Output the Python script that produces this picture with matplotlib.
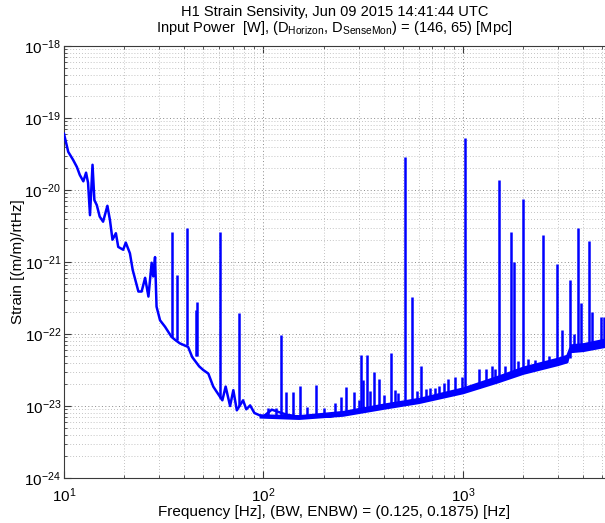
import matplotlib
matplotlib.use("Agg")
import matplotlib.pyplot as plt
from matplotlib.ticker import FixedLocator, NullFormatter, LogFormatterSciNotation

plt.rcParams['font.family'] = ['Liberation Sans', 'DejaVu Sans']
plt.rcParams['mathtext.default'] = 'regular'

# ---- data ----
# broadband curve (centre of trace)
curve_freq = [10.0, 10.5, 11.1, 11.6, 12.0, 12.5, 12.9, 13.2, 13.5, 13.9, 14.2, 14.6,
              15.1, 15.7, 16.5, 17.0, 17.5, 18.2, 18.7, 19.8, 20.4, 21.4, 22.1, 23.6,
              24.5, 25.5, 26.5, 27.5, 28.0, 28.6, 29.1, 30.3, 32.1, 34.6, 36.0, 38.1,
              41.9, 43.9, 47.6, 49.9, 52.9, 56.0, 58.2, 62.2, 64.6, 68.0, 70.6, 73.5,
              79.0, 82.0, 85.7, 90.0, 99.5, 110, 130, 150, 170, 200, 216, 250, 300, 400,
              500, 700, 1000, 1500, 2000, 3000, 3300, 3450, 4000, 5150]
curve_strain = [6.03e-20, 3.39e-20, 2.63e-20, 2.09e-20, 1.62e-20, 1.32e-20, 1.74e-20, 1.26e-20,
                4.47e-21, 2.24e-20, 7.24e-21, 6.17e-21, 4.27e-21, 3.63e-21, 6.03e-21, 3.80e-21,
                2.04e-21, 2.51e-21, 1.62e-21, 1.48e-21, 1.86e-21, 1.32e-21, 7.76e-22, 3.89e-22,
                3.89e-22, 6.03e-22, 3.31e-22, 9.77e-22, 6.31e-22, 1.17e-21, 2.40e-22, 1.55e-22,
                1.26e-22, 9.12e-23, 8.32e-23, 7.41e-23, 6.61e-23, 4.79e-23, 3.55e-23, 3.16e-23,
                2.82e-23, 1.86e-23, 1.58e-23, 1.20e-23, 1.86e-23, 1.00e-23, 1.66e-23, 8.71e-24,
                1.20e-23, 9.0e-24, 1.02e-23, 8.0e-24, 7.08e-24, 8.9e-24, 7.6e-24, 7.1e-24,
                7.1e-24, 7.1e-24, 7.1e-24, 7.9e-24, 8.9e-24, 1.0e-23, 1.12e-23, 1.32e-23,
                1.66e-23, 2.40e-23, 3.16e-23, 4.17e-23, 4.57e-23, 6.31e-23, 6.6e-23, 7.6e-23]

# envelope of the dense noise band at high frequency
band_freq = [95, 150, 250, 400, 600, 1000, 1500, 2000, 3000, 3350, 3450, 4000, 5150]
band_lo = [6.8e-24, 6.5e-24, 7.2e-24, 9.0e-24, 1.08e-23, 1.48e-23, 2.1e-23,
           2.75e-23, 3.65e-23, 4.0e-23, 5.5e-23, 5.7e-23, 6.5e-23]
band_hi = [7.8e-24, 7.6e-24, 8.7e-24, 1.1e-23, 1.32e-23, 1.85e-23, 2.7e-23,
           3.6e-23, 4.8e-23, 5.3e-23, 7.3e-23, 7.6e-23, 8.8e-23]

# narrow spectral lines: frequency, top, foot
line_freq = [34.9, 36.9, 41.2, 45.9, 46.6, 60.6, 75.6, 105, 116, 122, 130, 141, 152.5,
             165, 183, 200, 228, 246, 260, 283, 300, 307, 317, 329, 342, 356, 380, 400,
             438, 455, 475, 512, 553, 590, 615, 650, 685, 720, 760, 800, 843, 910, 990,
             1020, 1200, 1300, 1390, 1440, 1520, 1620, 1740, 1810, 1890, 2005, 2120, 2300,
             2510, 2700, 2970, 3150, 3440, 3600, 3785, 3900, 4290, 4450, 4900, 5100]
line_top = [2.63e-21, 6.6e-22, 2.95e-21, 2.14e-22, 2.82e-22, 2.63e-21, 1.95e-22, 9.5e-24,
            9.5e-24, 9.8e-23, 1.58e-23, 1.58e-23, 1.9e-23, 9.8e-24, 1.95e-23, 9.5e-24,
            1.1e-23, 1.35e-23, 1.86e-23, 1.58e-23, 1.2e-23, 5.1e-23, 2.3e-23, 5.1e-23,
            1.6e-23, 3.0e-23, 2.4e-23, 1.4e-23, 5.4e-23, 1.66e-23, 1.5e-23, 2.9e-20,
            3.3e-22, 1.6e-23, 3.55e-23, 1.7e-23, 1.78e-23, 1.8e-23, 1.9e-23, 2.1e-23,
            2.4e-23, 2.5e-23, 2.5e-23, 5.2e-20, 3.3e-23, 3.3e-23, 3.55e-23, 3.3e-23,
            1.38e-20, 3.55e-23, 2.63e-21, 1.0e-21, 4.2e-23, 7.6e-21, 4.5e-23, 4.3e-23,
            2.34e-21, 5.0e-23, 9.5e-22, 1.15e-22, 5.6e-22, 1.0e-22, 2.95e-21, 2.7e-22,
            1.95e-21, 2.04e-22, 1.74e-22, 1.74e-22]
line_foot = [9.0e-23, 8.3e-23, 7.0e-23, 5.0e-23, 5.0e-23, 1.3e-23, 1.0e-23, 7.5e-24,
             7.5e-24, 7.5e-24, 7.5e-24, 7.5e-24, 7.2e-24, 7.2e-24, 7.2e-24, 7.2e-24,
             7.5e-24, 8.0e-24, 8.0e-24, 8.5e-24, 8.7e-24, 9.0e-24, 9.0e-24, 9.0e-24,
             9.2e-24, 9.5e-24, 9.8e-24, 1.0e-23, 1.05e-23, 1.08e-23, 1.09e-23, 1.1e-23,
             1.15e-23, 1.18e-23, 1.2e-23, 1.25e-23, 1.3e-23, 1.35e-23, 1.4e-23, 1.45e-23,
             1.5e-23, 1.55e-23, 1.6e-23, 1.65e-23, 1.8e-23, 2.0e-23, 2.1e-23, 2.2e-23,
             2.3e-23, 2.4e-23, 2.6e-23, 2.7e-23, 2.9e-23, 3.1e-23, 3.3e-23, 3.4e-23,
             3.6e-23, 3.8e-23, 4.1e-23, 4.3e-23, 4.6e-23, 6.2e-23, 6.5e-23, 6.6e-23,
             6.9e-23, 7.0e-23, 7.4e-23, 7.5e-23]

x_major = [10, 100, 1000]
y_major = [1e-24, 1e-23, 1e-22, 1e-21, 1e-20, 1e-19, 1e-18]

title_lines = ["H1 Strain Sensivity, Jun 09 2015 14:41:44 UTC",
               "Input Power  [W], (D$_{Horizon}$, D$_{SenseMon}$) = (146, 65) [Mpc]"]
xlabel = "Frequency [Hz], (BW, ENBW) = (0.125, 0.1875) [Hz]"
ylabel = "Strain [(m/m)/rtHz]"

# ---- figure ----
W, H = 605, 523
XMAX = 5150
fig = plt.figure(figsize=(W / 100, H / 100), dpi=100)
ax = fig.add_axes([64 / W, 1 - 478 / H, (W - 64) / W, (478 - 46) / H])

blue = (0, 0, 1)
ax.fill_between(band_freq, band_lo, band_hi, color=blue, lw=0, zorder=3)
ax.plot(curve_freq, curve_strain, color=blue, lw=1.8, zorder=4)
ax.vlines(line_freq, line_foot, line_top, color=blue, lw=1.8, zorder=4)

ax.set_xscale('log')
ax.set_yscale('log')
ax.set_xlim(10, XMAX)
ax.set_ylim(1e-24, 1e-18)

x_minor = [m * d for d in (10, 100, 1000) for m in range(2, 10) if m * d <= XMAX]
y_minor = [m * d for d in y_major[:-1] for m in range(2, 10)]
ax.xaxis.set_major_locator(FixedLocator(x_major))
ax.yaxis.set_major_locator(FixedLocator(y_major))
ax.xaxis.set_minor_locator(FixedLocator(x_minor))
ax.yaxis.set_minor_locator(FixedLocator(y_minor))
ax.xaxis.set_major_formatter(LogFormatterSciNotation())
ax.yaxis.set_major_formatter(LogFormatterSciNotation())
ax.xaxis.set_minor_formatter(NullFormatter())
ax.yaxis.set_minor_formatter(NullFormatter())

ax.grid(True, which='major', color='#8a8a8a', ls=(0, (1, 2.5)), lw=0.7)
ax.grid(True, which='minor', color='#b0b0b0', ls=(0, (1, 2.5)), lw=0.6)
ax.set_axisbelow(True)

for s in ['left', 'bottom', 'top']:
    ax.spines[s].set_color('#3a3a3a')
    ax.spines[s].set_linewidth(0.8)
ax.spines['right'].set_visible(False)

ax.tick_params(which='both', direction='in', top=True, right=False,
               colors='#3a3a3a', labelcolor='black', labelsize=11)
ax.tick_params(which='major', length=5, width=0.8)
ax.tick_params(axis='x', which='major', pad=6)
ax.tick_params(axis='y', which='major', pad=2)
ax.tick_params(which='minor', length=2.5, width=0.6)

ax.set_title("\n".join(title_lines), fontsize=10.5, pad=10, linespacing=1.0)
ax.set_xlabel(xlabel, fontsize=11, labelpad=0)
fig.text(18 / W, 1 - 262 / H, ylabel, rotation=90, ha='center', va='center', fontsize=11)

fig.savefig("out.png", dpi=100)
